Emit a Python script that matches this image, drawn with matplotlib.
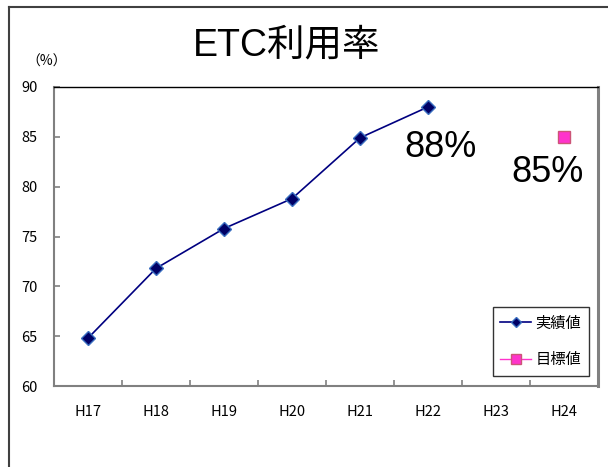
import matplotlib
matplotlib.use("Agg")
import matplotlib.pyplot as plt
from matplotlib.lines import Line2D

plt.rcParams['font.family'] = ['Liberation Sans', 'Noto Sans CJK JP', 'DejaVu Sans']

categories = ["H17", "H18", "H19", "H20", "H21", "H22", "H23", "H24"]
actual_values = [64.8, 71.8, 75.8, 78.8, 84.9, 88.0]
target_category = "H24"
target_value = 85
actual_label = "88%"
target_label = "85%"
y_ticks = [60, 65, 70, 75, 80, 85, 90]

fig = plt.figure(figsize=(6.08, 4.67), dpi=100)
ax = fig.add_axes([54 / 608, 1 - 386 / 467, 544 / 608, 299 / 467])

x_actual = list(range(len(actual_values)))
x_target = categories.index(target_category)

ax.plot(x_actual, actual_values, color="#000080", lw=1.2,
        marker="D", ms=7, mfc="#000066", mec="#3a6fc0", mew=1.0,
        label="実績値", zorder=3)
ax.plot([x_target], [target_value], color="#ff33cc", lw=1.0,
        marker="s", ms=8.5, mfc="#ff33cc", mec="#cc5577", mew=1.0,
        linestyle="-", label="目標値", zorder=3)

ax.text(x_actual[-1] + 0.19, 83.9, actual_label, fontsize=26,
        ha="center", va="center", family="Liberation Sans")
ax.text(x_target - 0.24, 81.4, target_label, fontsize=26,
        ha="center", va="center", family="Liberation Sans")

ax.set_xlim(-0.5, len(categories) - 0.5)
ax.set_ylim(60, 90)
ax.set_yticks(y_ticks)
ax.set_yticklabels([str(v) for v in y_ticks], fontsize=10.5,
                   family=["Noto Sans CJK JP"])
ax.set_xticks([i + 0.5 for i in range(len(categories) - 1)])
ax.set_xticklabels([])
ax.set_xticks(range(len(categories)), minor=True)
ax.set_xticklabels(categories, minor=True, fontsize=10.5,
                   family=["Noto Sans CJK JP"])
ax.tick_params(axis="x", which="major", direction="in", length=4,
               color="#808080", width=1.2)
ax.tick_params(axis="x", which="minor", length=0, pad=14)
ax.tick_params(axis="y", direction="in", length=4, color="#808080",
               width=1.2, pad=12)

for side in ["left", "bottom"]:
    ax.spines[side].set_color("#808080")
    ax.spines[side].set_linewidth(1.5)
ax.spines["top"].set_color("#000000")
ax.spines["top"].set_linewidth(1.0)
ax.spines["right"].set_color("#808080")
ax.spines["right"].set_linewidth(2.2)

leg = ax.legend(loc="lower right", bbox_to_anchor=(0.9835, 0.035),
                prop={"family": ["Noto Sans CJK JP"], "size": 11},
                frameon=True, fancybox=False, edgecolor="#000000",
                handlelength=2.0, borderpad=0.5, labelspacing=1.25,
                handletextpad=0.3, borderaxespad=0, markerscale=0.8)
leg.get_frame().set_linewidth(1.0)

fig.text(287 / 608, 1 - 45 / 467, "ETC利用率", fontsize=27,
         ha="center", va="center")
fig.text(47 / 608, 1 - 62 / 467, "（%）", fontsize=10, ha="center",
         va="center", family=["Noto Sans CJK JP"])

fig.add_artist(Line2D([9 / 608, 9 / 608], [0, 1 - 7 / 467],
                      transform=fig.transFigure, color="#404040", lw=1.5))
fig.add_artist(Line2D([9 / 608, 1], [1 - 7 / 467, 1 - 7 / 467],
                      transform=fig.transFigure, color="#404040", lw=1.5))

fig.savefig("out.png", dpi=100)
